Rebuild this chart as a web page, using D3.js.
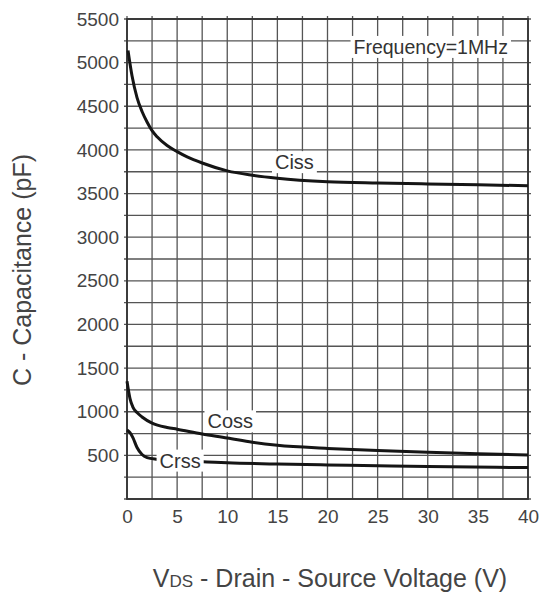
<!DOCTYPE html>
<html>
<head>
<meta charset="utf-8">
<script src="https://cdn.jsdelivr.net/npm/d3@7"></script>
<style>
  body { margin: 0; background: #fff; }
  text { font-family: "Liberation Sans", Arial, sans-serif; }
</style>
</head>
<body>
<svg id="chart" width="539" height="596"></svg>
<script>
// reading off the datasheet curve, VDS in volts, C in pF
const cissV = [0.1, 0.5, 1, 1.5, 2, 2.5, 3, 4, 5, 6, 7.5, 10, 12.5, 15, 20, 25, 30, 40];
const cissC = [5140, 4850, 4600, 4440, 4320, 4220, 4150, 4050, 3980, 3920, 3850, 3760, 3710, 3675, 3635, 3620, 3610, 3590];
const cossV = [0, 0.3, 0.6, 1, 1.5, 2.5, 4, 5, 7.5, 10, 12.5, 15, 20, 25, 30, 35, 40];
const cossC = [1350, 1150, 1050, 990, 940, 870, 820, 800, 745, 700, 650, 615, 580, 555, 535, 518, 505];
const crssV = [0, 0.3, 0.6, 1, 1.5, 2, 3, 5, 8, 10, 15, 20, 25, 30, 40];
const crssC = [790, 760, 700, 590, 510, 475, 455, 440, 425, 415, 400, 390, 380, 372, 360];
const xTicks = [0, 5, 10, 15, 20, 25, 30, 35, 40];
const yTicks = [500, 1000, 1500, 2000, 2500, 3000, 3500, 4000, 4500, 5000, 5500];

const svg = d3.select("#chart");
const pl = 127, pr = 528, pt = 19, pb = 499;

const x = d3.scaleLinear().domain([0, 40]).range([pl, pr]);
const y = d3.scaleLinear().domain([0, 5500]).range([pb, pt]);

const gridCol = "#555";
const textCol = "#444";

// grid, every 2.5 V and every 250 pF
const g = svg.append("g");
g.selectAll("line.v")
  .data(d3.range(0, 40.01, 2.5))
  .join("line")
  .attr("x1", d => x(d)).attr("x2", d => x(d))
  .attr("y1", pt - 3).attr("y2", pb)
  .attr("stroke", gridCol).attr("stroke-width", 1.3);
g.selectAll("line.h")
  .data(d3.range(0, 5500.1, 250))
  .join("line")
  .attr("x1", pl - 3).attr("x2", pr + 3)
  .attr("y1", d => y(d)).attr("y2", d => y(d))
  .attr("stroke", gridCol).attr("stroke-width", 1.3);

g.append("rect")
  .attr("x", pl).attr("y", pt)
  .attr("width", pr - pl).attr("height", pb - pt)
  .attr("fill", "none").attr("stroke", "#333").attr("stroke-width", 1.8);

// axes labels
svg.append("g")
  .attr("transform", `translate(0,${pb + 8})`)
  .call(d3.axisBottom(x).tickValues(xTicks).tickSize(0).tickPadding(2))
  .call(a => a.select(".domain").remove())
  .selectAll("text")
  .attr("fill", textCol).attr("font-size", 19);

svg.append("g")
  .attr("transform", `translate(${pl - 8},0)`)
  .call(d3.axisLeft(y).tickValues(yTicks).tickFormat(d3.format("d")).tickSize(0).tickPadding(0))
  .call(a => a.select(".domain").remove())
  .selectAll("text")
  .attr("fill", textCol).attr("font-size", 19);

const line = d3.line()
  .x(d => x(d[0]))
  .y(d => y(d[1]))
  .curve(d3.curveMonotoneX);

const curves = [
  d3.zip(cissV, cissC),
  d3.zip(cossV, cossC),
  d3.zip(crssV, crssC)
];

svg.append("g")
  .selectAll("path")
  .data(curves)
  .join("path")
  .attr("d", line)
  .attr("fill", "none")
  .attr("stroke", "#151515")
  .attr("stroke-width", 3);

// curve labels on white patches
const labels = [
  {t: "Ciss", v: 16.7, c: 3860, fs: 20},
  {t: "Coss", v: 10.3, c: 890, fs: 20},
  {t: "Crss", v: 5.3, c: 440, fs: 20},
  {t: "Frequency=1MHz", v: 30.3, c: 5180, fs: 19.5}
];
const lab = svg.append("g");
labels.forEach(d => {
  const t = lab.append("text")
    .attr("x", x(d.v)).attr("y", y(d.c))
    .attr("text-anchor", "middle")
    .attr("dominant-baseline", "central")
    .attr("font-size", d.fs)
    .attr("fill", "#333")
    .text(d.t);
  const b = t.node().getBBox();
  lab.insert("rect", () => t.node())
    .attr("x", b.x - 3).attr("y", b.y)
    .attr("width", b.width + 6).attr("height", b.height)
    .attr("fill", "#fff");
});

// axis titles
svg.append("text")
  .attr("transform", "translate(22,270) rotate(-90)")
  .attr("text-anchor", "middle")
  .attr("dominant-baseline", "central")
  .attr("font-size", 25)
  .attr("fill", textCol)
  .text("C - Capacitance (pF)");

const xt = svg.append("text")
  .attr("x", 330).attr("y", 587)
  .attr("text-anchor", "middle")
  .attr("font-size", 25)
  .attr("fill", textCol);
xt.append("tspan").text("V");
xt.append("tspan").attr("font-size", 17).text("DS");
xt.append("tspan").text(" - Drain - Source Voltage (V)");
</script>
</body>
</html>
